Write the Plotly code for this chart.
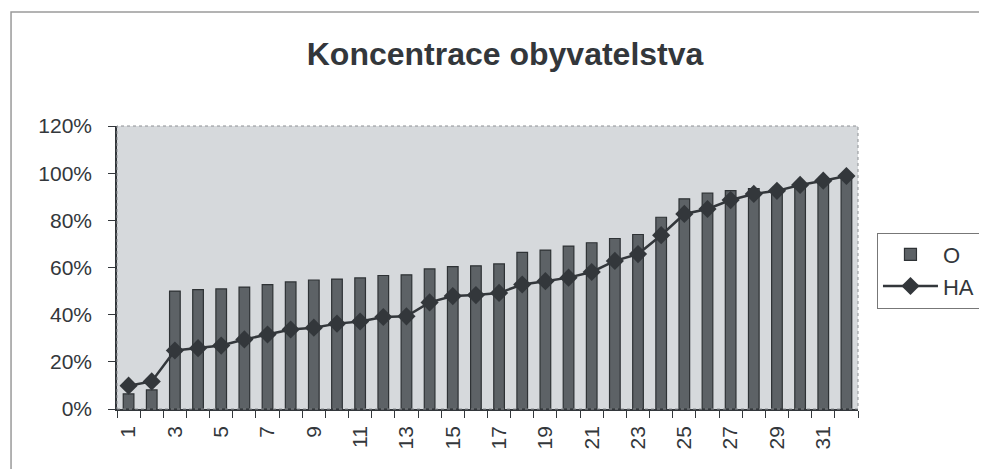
import plotly.graph_objects as go

categories = [1, 2, 3, 4, 5, 6, 7, 8, 9, 10, 11, 12, 13, 14, 15, 16,
              17, 18, 19, 20, 21, 22, 23, 24, 25, 26, 27, 28, 29, 30, 31, 32]
o_values = [0.064, 0.081, 0.500, 0.506, 0.509, 0.517, 0.527, 0.539, 0.547, 0.551,
            0.556, 0.566, 0.569, 0.594, 0.604, 0.607, 0.615, 0.664, 0.674, 0.691,
            0.705, 0.723, 0.740, 0.813, 0.891, 0.915, 0.926, 0.935, 0.935, 0.955,
            0.975, 0.995]
ha_values = [0.099, 0.117, 0.248, 0.258, 0.269, 0.295, 0.316, 0.337, 0.345, 0.362,
             0.371, 0.390, 0.393, 0.452, 0.479, 0.483, 0.492, 0.528, 0.542, 0.557,
             0.581, 0.628, 0.657, 0.737, 0.827, 0.848, 0.886, 0.912, 0.925, 0.950,
             0.968, 0.988]
tick_labels = ["1", "3", "5", "7", "9", "11", "13", "15", "17", "19", "21", "23",
               "25", "27", "29", "31"]
tick_positions = [1, 3, 5, 7, 9, 11, 13, 15, 17, 19, 21, 23, 25, 27, 29, 31]
y_ticks = [0, 0.2, 0.4, 0.6, 0.8, 1.0, 1.2]

FONT = "Liberation Sans, Arial, sans-serif"
DARK = "#33373b"

fig = go.Figure()
fig.add_trace(go.Bar(
    x=categories, y=o_values, name="O", width=0.46,
    marker=dict(color="#5d6266", line=dict(color="#2e3235", width=1.2)),
))
fig.add_trace(go.Scatter(
    x=categories, y=ha_values, name="HA", mode="lines+markers",
    line=dict(color=DARK, width=2.5),
    marker=dict(symbol="diamond", size=14, color=DARK),
))

fig.update_layout(
    width=979, height=461,
    paper_bgcolor="white",
    plot_bgcolor="#d6d9dc",
    margin=dict(l=109, r=129, t=118, b=60, autoexpand=False),
    font=dict(family=FONT, color=DARK, size=21),
    title=dict(text="<b>Koncentrace obyvatelstva</b>", x=0.5077, xanchor="center",
               y=0.900, yanchor="middle", font=dict(size=32, family=FONT, color=DARK)),
    showlegend=True,
    legend=dict(x=1.0256, xanchor="left", y=0.489, yanchor="middle",
                bordercolor="#777", borderwidth=1, bgcolor="white", itemwidth=55,
                font=dict(size=22, family=FONT, color=DARK), tracegroupgap=0),
    shapes=[dict(type="rect", xref="paper", yref="paper", x0=-0.143, x1=1.25,
                 y0=-0.4, y1=1.403, line=dict(color="#9a9a9a", width=1.5)),
            dict(type="rect", xref="paper", yref="paper", x0=0, x1=1, y0=0, y1=1,
                 line=dict(color="#8d9094", width=1, dash="dot"))],
)
fig.update_xaxes(
    range=[0.5, 32.5], tickmode="array", tickvals=tick_positions, ticktext=tick_labels,
    tickangle=-90, ticks="", showgrid=False, zeroline=False,
    showline=True, linecolor=DARK, linewidth=1.5, ticklabelstandoff=7,
    tickfont=dict(size=21, family=FONT, color=DARK),
    minor=dict(ticks="outside", tickmode="linear", tick0=0.5, dtick=1, ticklen=7,
               tickcolor=DARK, showgrid=False),
)
fig.update_yaxes(
    range=[0, 1.2], tickmode="array", tickvals=y_ticks, tickformat=".0%",
    ticks="outside", ticklen=7, tickcolor=DARK, showgrid=False, zeroline=False,
    showline=True, linecolor=DARK, linewidth=1.5, ticklabelstandoff=12,
    tickfont=dict(size=21, family=FONT, color=DARK),
)

fig.write_html("out.html")
